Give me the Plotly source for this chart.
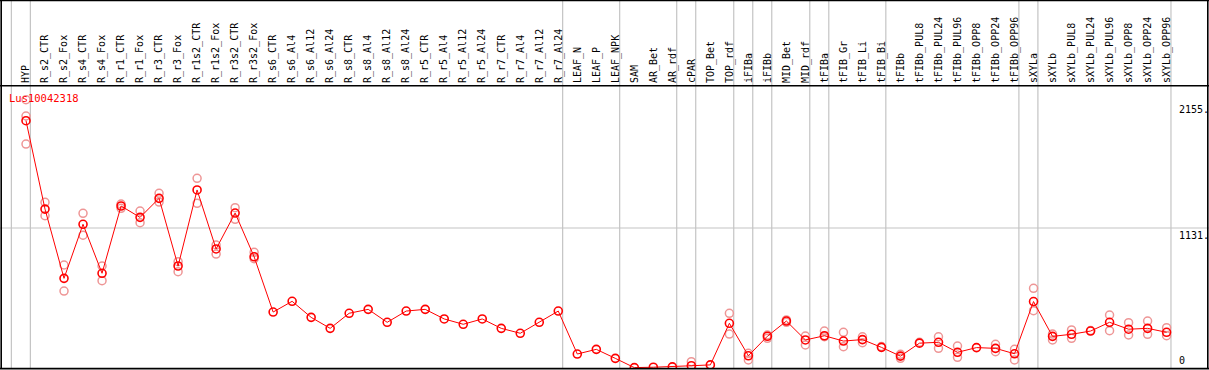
import plotly.graph_objects as go

categories = ["HYP", "R_s2_CTR", "R_s2_Fox", "R_s4_CTR", "R_s4_Fox", "R_r1_CTR", "R_r1_Fox",
              "R_r3_CTR", "R_r3_Fox", "R_r1s2_CTR", "R_r1s2_Fox", "R_r3s2_CTR", "R_r3s2_Fox",
              "R_s6_CTR", "R_s6_Al4", "R_s6_Al12", "R_s6_Al24", "R_s8_CTR", "R_s8_Al4",
              "R_s8_Al12", "R_s8_Al24", "R_r5_CTR", "R_r5_Al4", "R_r5_Al12", "R_r5_Al24",
              "R_r7_CTR", "R_r7_Al4", "R_r7_Al12", "R_r7_Al24", "LEAF_N", "LEAF_P", "LEAF_NPK",
              "SAM", "AR_Bet", "AR_rdf", "cPAR", "TOP_Bet", "TOP_rdf", "iFIBa", "iFIBb",
              "MID_Bet", "MID_rdf", "tFIBa", "tFIB_Gr", "tFIB_Li", "tFIB_Bi", "tFIBb",
              "tFIBb_PUL8", "tFIBb_PUL24", "tFIBb_PUL96", "tFIBb_OPP8", "tFIBb_OPP24",
              "tFIBb_OPP96", "sXYLa", "sXYLb", "sXYLb_PUL8", "sXYLb_PUL24", "sXYLb_PUL96",
              "sXYLb_OPP8", "sXYLb_OPP24", "sXYLb_OPP96"]

mean_values = [2000, 1284, 723, 1161, 764, 1309, 1217, 1371, 823, 1439, 961, 1252, 898,
               450, 537, 407, 318, 440, 472, 367, 458, 472, 394, 351, 394, 318, 278, 367, 458,
               110, 148, 75, 0, 3, 6, 15, 22, 359, 96, 254, 377, 224, 258, 215, 227, 164, 93,
               198, 205, 124, 162, 156, 112, 535, 253, 270, 296, 367, 311, 318, 286]

# replicate measurements (category, value) for samples with visible replicates
replicate_categories = ["HYP", "HYP", "HYP", "R_s2_CTR", "R_s2_CTR", "R_s2_Fox", "R_s2_Fox",
                        "R_s4_CTR", "R_s4_CTR", "R_s4_Fox", "R_s4_Fox", "R_r1_CTR", "R_r1_CTR",
                        "R_r1_Fox", "R_r1_Fox", "R_r3_CTR", "R_r3_CTR", "R_r3_Fox", "R_r3_Fox",
                        "R_r1s2_CTR", "R_r1s2_CTR", "R_r1s2_Fox", "R_r1s2_Fox",
                        "R_r3s2_CTR", "R_r3s2_CTR", "R_r3s2_Fox", "R_r3s2_Fox",
                        "cPAR", "TOP_rdf", "TOP_rdf", "iFIBa", "iFIBa", "iFIBb", "iFIBb",
                        "MID_Bet", "MID_Bet", "MID_rdf", "MID_rdf", "tFIBa", "tFIBa",
                        "tFIB_Gr", "tFIB_Gr", "tFIB_Li", "tFIB_Li", "tFIB_Bi", "tFIBb", "tFIBb",
                        "tFIBb_PUL8", "tFIBb_PUL24", "tFIBb_PUL24", "tFIBb_PUL96", "tFIBb_PUL96",
                        "tFIBb_OPP24", "tFIBb_OPP24", "tFIBb_OPP96", "tFIBb_OPP96",
                        "sXYLa", "sXYLa", "sXYLb", "sXYLb", "sXYLb_PUL8", "sXYLb_PUL8",
                        "sXYLb_PUL24", "sXYLb_PUL96", "sXYLb_PUL96", "sXYLb_OPP8", "sXYLb_OPP8",
                        "sXYLb_OPP24", "sXYLb_OPP24", "sXYLb_OPP96", "sXYLb_OPP96"]
replicate_values = [2170, 2038, 1811, 1339, 1230, 831, 620,
                    1250, 1072, 823, 704, 1325, 1290,
                    1268, 1174, 1412, 1341, 858, 777,
                    1533, 1331, 993, 920,
                    1295, 1201, 934, 882,
                    48, 440, 272, 116, 62, 264, 237,
                    386, 367, 256, 183, 296, 250,
                    286, 169, 250, 202, 170, 108, 75,
                    205, 250, 156, 175, 83,
                    189, 129, 148, 62,
                    642, 461, 272, 224, 305, 237,
                    300, 426, 299, 364, 264,
                    377, 270, 323, 258]

y_tick_values = [0, 1131, 2155]
y_tick_text = ["0", "1131.", "2155."]
gridline_values = [1131]
separators_after = [None, "HYP", "R_r7_Al24", "LEAF_NPK", "AR_rdf", "cPAR", "TOP_rdf", "iFIBa",
                    "iFIBb", "MID_rdf", "tFIBa", "tFIB_Bi", "tFIBb_OPP96", "sXYLa", "sXYLb_OPP96"]
title_text = "Lus10042318"

# ---- layout constants (pixels) ----
W, H = 1209, 370
TOP, BOT = 86, 2
PLOT_H = H - TOP - BOT
MONO = "DejaVu Sans Mono"

idx = {c: i for i, c in enumerate(categories)}
xs = list(range(len(categories)))
rx = [idx[c] for c in replicate_categories]


def py(p):  # pixel row -> paper y
    return (H - BOT - p) / PLOT_H


fig = go.Figure()
fig.add_trace(go.Scatter(
    x=rx, y=replicate_values, mode="markers", hoverinfo="skip",
    marker=dict(symbol="circle-open", size=8, color="rgb(238,150,150)",
                line=dict(width=1.5, color="rgb(238,150,150)")),
    showlegend=False))
fig.add_trace(go.Scatter(
    x=xs, y=mean_values, mode="lines+markers",
    line=dict(color="red", width=1),
    marker=dict(symbol="circle-open", size=8, color="red", line=dict(width=1.6, color="red")),
    showlegend=False))

shapes = []
for s in separators_after:
    xv = (idx[s] if s is not None else -1) + 0.23
    shapes.append(dict(type="line", xref="x", yref="paper", x0=xv, x1=xv, y0=0, y1=py(0),
                       line=dict(color="#c4c4c4", width=1.2), layer="below"))
for g in gridline_values:
    shapes.append(dict(type="line", xref="paper", yref="y", x0=0, x1=1, y0=g, y1=g,
                       line=dict(color="#c4c4c4", width=1.2), layer="below"))
# frame
blk = dict(color="black", width=1.6)
shapes += [
    dict(type="line", xref="paper", yref="paper", x0=0, x1=1, y0=py(0.5), y1=py(0.5), line=blk),
    dict(type="line", xref="paper", yref="paper", x0=0, x1=1, y0=py(85.7), y1=py(85.7), line=blk),
    dict(type="line", xref="paper", yref="paper", x0=0, x1=1, y0=py(368.6), y1=py(368.6), line=blk),
    dict(type="line", xref="paper", yref="paper", x0=1.2 / W, x1=1.2 / W, y0=py(369), y1=py(0), line=blk),
    dict(type="line", xref="paper", yref="paper", x0=1 - 1.2 / W, x1=1 - 1.2 / W, y0=py(369), y1=py(0), line=blk),
]

annotations = [dict(text=title_text, xref="paper", yref="paper", x=7 / W, y=py(98),
                    xanchor="left", yanchor="middle", showarrow=False,
                    font=dict(family=MONO, size=10.5, color="red"))]
for v, t in zip(y_tick_values, y_tick_text):
    annotations.append(dict(text=t, xref="paper", yref="y", x=1177 / W, y=v,
                            xanchor="left", yanchor="bottom" if v == 0 else "top",
                            showarrow=False, font=dict(family=MONO, size=10, color="black")))

x0 = -26 / 19.01
fig.update_layout(
    width=W, height=H, margin=dict(l=0, r=0, t=TOP, b=BOT, pad=0),
    paper_bgcolor="white", plot_bgcolor="white",
    xaxis=dict(range=[x0, x0 + W / 19.01], side="top", tickmode="array", tickvals=xs,
               ticktext=categories, tickangle=-90, showgrid=False, zeroline=False,
               showline=False, ticks="", ticklabelstandoff=2,
               tickfont=dict(family=MONO, size=10, color="black")),
    yaxis=dict(range=[-3.2, 2281], showgrid=False, zeroline=False, showticklabels=False,
               showline=False, ticks=""),
    shapes=shapes, annotations=annotations,
)
fig.write_html("out.html", config={"displayModeBar": False},
               post_script="document.body.style.margin='0';document.body.style.overflow='hidden';")
